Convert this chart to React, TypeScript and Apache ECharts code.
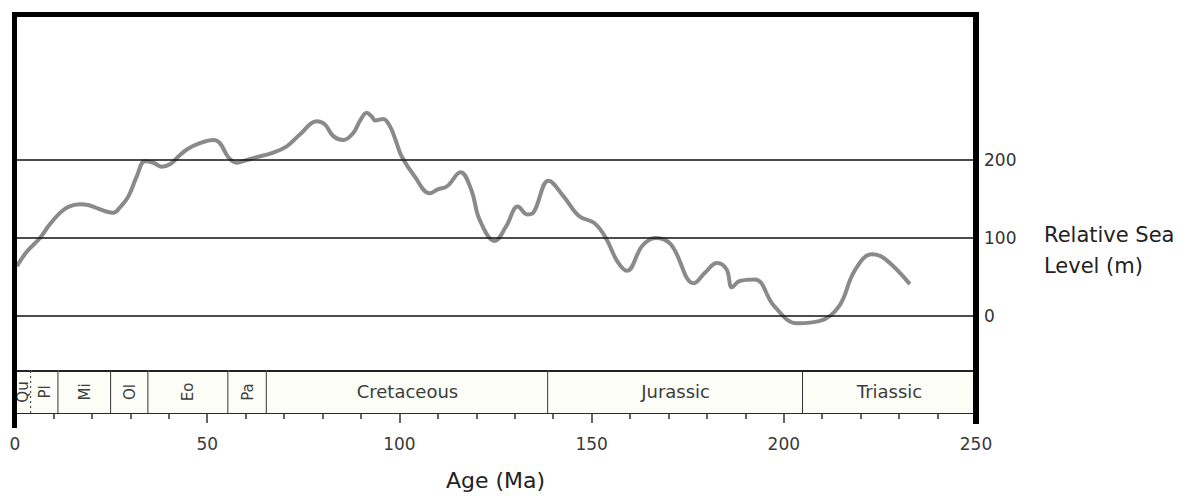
import React, { useEffect, useRef } from "react";
import * as echarts from "echarts";

// Relative sea level curve (Age in Ma, level in m)
const ages = [
  0.5, 3, 6.5, 9, 11.7, 14, 16.9, 19, 21.3, 23.5, 25.6, 27.3, 29.5, 31.7, 33.8, 36, 38.2, 40.3,
  42.5, 44.7, 48.1, 51.6, 53.3, 55.5, 57.7, 60, 62, 67.2, 70.7, 74.1, 78.5, 80.6, 82.8, 85.4,
  88, 89.8, 91.5, 92.8, 93.7, 95.8, 97.6, 99, 100.6, 103.9, 107.9, 110, 112.4, 115.9, 118.8,
  120.8, 124.8, 127.8, 130.8, 133.3, 134.8, 138.8, 142.7, 146.7, 150.7, 153.7, 156.7, 159.2,
  163.2, 166.6, 170.6, 176.6, 179.6, 182.6, 185.1, 186.5, 188.5, 192.5, 197.5, 203.5, 209.4,
  214.4, 218.4, 222.9, 226.4, 232.8,
];
const seaLevels = [
  64, 82, 100, 117, 132, 140, 143, 142, 138, 134, 132, 139, 153, 179, 198, 196, 191, 194,
  204, 213, 221, 225, 221, 203, 196, 199, 202, 209, 217, 232, 249, 245, 230, 225,
  234, 250, 260, 255, 250, 252, 242, 225, 204, 179, 157, 162, 166, 184, 160,
  124, 96, 115, 140, 130, 132, 173, 153, 128, 119, 100, 70, 58,
  90, 100, 92, 42, 56, 68, 60, 37, 45, 47, 13, -9, -6,
  13, 58, 79, 73, 41,
];

const gridLevels = [0, 100, 200];

// Geological time scale bands (Ma)
const bandStarts = [0, 4.2, 11.3, 25, 34.7, 55.5, 65.5, 138.7, 205];
const bandEnds = [4.2, 11.3, 25, 34.7, 55.5, 65.5, 138.7, 205, 250];
const bandNames = ["Qu", "Pl", "Mi", "Ol", "Eo", "Pa", "Cretaceous", "Jurassic", "Triassic"];
const bandVertical = [true, true, true, true, true, true, false, false, false];

const X_MIN = 0;
const X_MAX = 250;
const Y_MIN = -123.6;
const Y_MAX = 384.7;
const BAND_TOP = -70;

const FONT = "DejaVu Sans";

export default function App() {
  const ref = useRef<HTMLDivElement>(null);

  useEffect(() => {
    if (!ref.current) return;
    const chart = echarts.init(ref.current, null, { renderer: "svg" });

    const curveData = ages.map((a, i) => [a, seaLevels[i]]);
    const bandData = bandStarts.map((s, i) => [s, bandEnds[i]]);

    const option: any = {
      animation: false,
      backgroundColor: "#ffffff",
      grid: { left: 15, right: 224, top: 15, bottom: 82, containLabel: false },
      xAxis: {
        type: "value",
        min: X_MIN,
        max: X_MAX,
        interval: 50,
        position: "bottom",
        axisLine: { show: true, onZero: false, lineStyle: { color: "#2a2a2a", width: 2 } },
        axisTick: { show: true, inside: false, length: 10, lineStyle: { color: "#333", width: 1.5 } },
        minorTick: { show: true, splitNumber: 5, length: 6, lineStyle: { color: "#333", width: 1.5 } },
        splitLine: { show: false },
        minorSplitLine: { show: false },
        axisLabel: { show: true, margin: 22, color: "#3a3a3a", fontSize: 17, fontFamily: FONT },
        name: "Age (Ma)",
        nameLocation: "middle",
        nameGap: 56,
        nameTextStyle: { color: "#222", fontSize: 22, fontFamily: FONT },
      },
      yAxis: {
        type: "value",
        min: Y_MIN,
        max: Y_MAX,
        axisLine: { show: false, onZero: false },
        axisTick: { show: false },
        axisLabel: { show: false },
        splitLine: { show: false },
      },
      series: [
        {
          type: "line",
          data: curveData,
          smooth: 0.4,
          symbol: "none",
          lineStyle: { color: "#8a8a8a", width: 4 },
          z: 3,
          markLine: {
            silent: true,
            symbol: ["none", "none"],
            animation: false,
            lineStyle: { color: "#111", width: 1.5, type: "solid" },
            label: {
              show: true,
              position: "end",
              distance: 8,
              formatter: "{c}",
              color: "#333",
              fontSize: 17,
              fontFamily: FONT,
              padding: [8, 0, 0, 0],
            },
            data: gridLevels.map((v) => ({ yAxis: v })),
          },
        },
        {
          type: "custom",
          data: bandData,
          encode: { x: [0, 1] },
          z: 5,
          silent: true,
          renderItem: (params: any, api: any) => {
            const i = params.dataIndex;
            const s = api.value(0);
            const e = api.value(1);
            const p0 = api.coord([s, BAND_TOP]);
            const p1 = api.coord([e, Y_MIN]);
            const cx = (p0[0] + p1[0]) / 2;
            const cy = (p0[1] + p1[1]) / 2;
            const vertical = bandVertical[i];
            return {
              type: "group",
              children: [
                {
                  type: "rect",
                  shape: { x: p0[0], y: p0[1], width: p1[0] - p0[0], height: p1[1] - p0[1] },
                  style: { fill: "#fdfdf8" },
                },
                {
                  type: "line",
                  shape: { x1: p0[0], y1: p0[1], x2: p1[0], y2: p0[1] },
                  style: { stroke: "#222", lineWidth: 2 },
                },
                {
                  type: "line",
                  shape: { x1: p1[0], y1: p0[1], x2: p1[0], y2: p1[1] },
                  style: {
                    stroke: "#333",
                    lineWidth: 2,
                    lineDash: i === 0 ? [2, 3] : null,
                  },
                },
                {
                  type: "text",
                  x: cx,
                  y: vertical ? cy : cy - 1,
                  rotation: vertical ? Math.PI / 2 : 0,
                  style: {
                    text: bandNames[i],
                    align: "center",
                    verticalAlign: "middle",
                    fill: "#3c3c3c",
                    fontSize: vertical ? 15 : 18,
                    fontFamily: FONT,
                  },
                },
              ],
            };
          },
        },
      ],
      graphic: [
        { type: "rect", shape: { x: 12, y: 12, width: 967, height: 5 }, style: { fill: "#000" }, z: 10 },
        { type: "rect", shape: { x: 12, y: 12, width: 5, height: 416 }, style: { fill: "#000" }, z: 10 },
        { type: "rect", shape: { x: 973, y: 12, width: 6, height: 412 }, style: { fill: "#000" }, z: 10 },
        {
          type: "text",
          x: 1044,
          y: 219,
          style: {
            text: "Relative Sea\nLevel (m)",
            fill: "#222",
            fontSize: 21,
            lineHeight: 31,
            fontFamily: FONT,
            verticalAlign: "top",
            align: "left",
          },
        },
      ],
    };

    chart.setOption(option);
    return () => chart.dispose();
  }, []);

  return (
    <div
      ref={ref}
      style={{ position: "fixed", left: 0, top: 0, width: 1200, height: 496 }}
    />
  );
}
